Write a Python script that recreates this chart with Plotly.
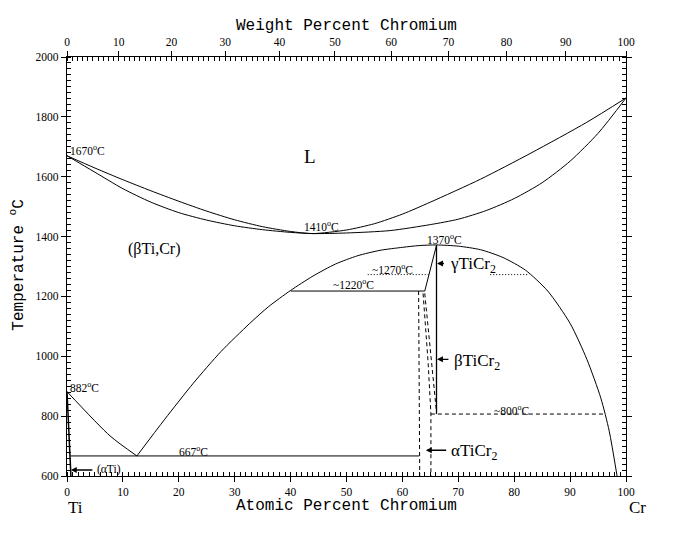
import plotly.graph_objects as go

# ---------------- data (atomic % Cr, temperature °C) ----------------
liq_x = [0, 5, 10, 15, 20, 25, 30, 35, 40, 44, 50, 55, 60, 65, 74, 83, 93, 100]
liq_T = [1670, 1629, 1590, 1553, 1518, 1485, 1456, 1433, 1417, 1410, 1422, 1443, 1475, 1515, 1592, 1679, 1782, 1863]

sol_x = [0, 5, 10, 15, 20, 25, 30, 35, 40, 44, 50, 57.8, 65, 70, 75, 80, 85, 90, 95, 100]
sol_T = [1670, 1615, 1560, 1515, 1480, 1455, 1436, 1423, 1414, 1410, 1412, 1420, 1440, 1458, 1487, 1527, 1580, 1652, 1745, 1863]

dome_x = [12.5, 17.5, 22.6, 27.5, 32.7, 36, 40, 44, 48, 52, 56, 60, 63, 66.1,
          70, 74, 78, 82, 86, 90, 93, 95.5, 97, 98.4]
dome_T = [667, 790, 910, 1015, 1110, 1165, 1220, 1268, 1308, 1336, 1354, 1364, 1370, 1372,
          1368, 1356, 1330, 1288, 1218, 1110, 990, 860, 750, 600]

transus_x = [0, 7.7, 12.5]
transus_T = [882, 734, 667]

asolvus_x = [0, 0.6, 0.7]
asolvus_T = [882, 667, 600]

eutectoid_x = [0.6, 63.0]
eutectoid_T = [667, 667]

peritectoid_x = [40.0, 64.0]
peritectoid_T = [1218, 1218]

gamma_x = [64.0, 66.1]
gamma_T = [1218, 1371]

laves_x = [66.1, 66.1]
laves_T = [1371, 807]

d800_x = [65.1, 96.4]
d800_T = [807, 807]

dash1_x = [62.9, 63.1]
dash1_T = [1218, 600]
dash2_x = [63.7, 64.6, 65.1, 65.1]
dash2_T = [1210, 980, 807, 600]
dash3_x = [64.0, 65.5, 66.1]
dash3_T = [1210, 912, 813]

dot1_x = [53.8, 64.7]
dot1_T = [1273, 1273]
dot2_x = [75.7, 82.7]
dot2_T = [1273, 1273]

wt_ticks = [0, 10, 20, 30, 40, 50, 60, 70, 80, 90, 100]
at_ticks = [0, 10, 20, 30, 40, 50, 60, 70, 80, 90, 100]
y_ticks = [600, 800, 1000, 1200, 1400, 1600, 1800, 2000]
M_TI, M_CR = 47.867, 51.996


def wt_to_at(w):
    a = w / M_CR
    b = (100 - w) / M_TI
    return 100 * a / (a + b)


fig = go.Figure()


def add_line(x, y, dash="solid", width=1, shape="linear"):
    line = dict(color="black", width=width, dash=dash, shape=shape)
    if shape == "spline":
        line["smoothing"] = 0.7
    fig.add_trace(go.Scatter(x=x, y=y, mode="lines", showlegend=False, hoverinfo="skip",
                             line=line))


add_line(liq_x, liq_T, shape="spline")
add_line(sol_x, sol_T, shape="spline")
add_line(dome_x, dome_T, shape="spline")
add_line(transus_x, transus_T, shape="spline")
add_line(asolvus_x, asolvus_T, width=1.5)
add_line(eutectoid_x, eutectoid_T)
add_line(peritectoid_x, peritectoid_T)
add_line(gamma_x, gamma_T)
add_line(laves_x, laves_T, width=1.3)
add_line(d800_x, d800_T, dash="4px,3px")
add_line(dash1_x, dash1_T, dash="4px,3px")
add_line(dash2_x, dash2_T, dash="4px,3px")
add_line(dash3_x, dash3_T, dash="4px,3px")
add_line(dot1_x, dot1_T, dash="1px,2px")
add_line(dot2_x, dot2_T, dash="1px,2px")

# invisible trace to anchor the weight-percent axis
fig.add_trace(go.Scatter(x=[0, 100], y=[600, 600], xaxis="x2", mode="none",
                         showlegend=False, hoverinfo="skip"))

SERIF = "Liberation Serif"
MONO = "Liberation Mono"

ann = []


def label(x, y, text, size=11.5, xanchor="center", font=SERIF):
    ann.append(dict(x=x, y=y, xref="x", yref="y", text=text, showarrow=False,
                    xanchor=xanchor, yanchor="middle",
                    font=dict(family=font, size=size, color="black")))


def arrow(x, y, ax, ay):
    ann.append(dict(x=x, y=y, ax=ax, ay=ay, xref="x", yref="y", axref="x", ayref="y",
                    text="", showarrow=True, arrowhead=2, arrowsize=0.9,
                    arrowwidth=1.3, arrowcolor="black", standoff=0, startstandoff=0))


label(0.2, 1690, "1670<sup>o</sup>C", xanchor="left")
label(100.2, 1887, "1863<sup>o</sup>C", xanchor="right")
label(43.5, 1667, "L", size=19)
label(45.6, 1437, "1410<sup>o</sup>C")
label(15.6, 1357, "(βTi,Cr)", size=16)
label(67.6, 1393, "1370<sup>o</sup>C")
label(58.3, 1293, "~1270<sup>o</sup>C")
label(51.3, 1240, "~1220<sup>o</sup>C")
label(0.2, 897, "882<sup>o</sup>C", xanchor="left")
label(22.7, 683, "667<sup>o</sup>C")
label(79.6, 820, "~800<sup>o</sup>C")
label(68.1, 1306, "γTiCr<sub>2</sub>", size=17, xanchor="left")
label(68.8, 980, "βTiCr<sub>2</sub>", size=17, xanchor="left")
label(68.4, 680, "αTiCr<sub>2</sub>", size=17, xanchor="left")
label(5.0, 622, "(αTi)", xanchor="left")

arrow(66.2, 1310, 67.7, 1310)
arrow(66.2, 990, 68.5, 990)
arrow(64.2, 686, 68.1, 686)
arrow(0.7, 620, 4.8, 620)

# axis titles and element names
ann.append(dict(x=0.5, y=1.074, xref="paper", yref="paper", text="Weight Percent Chromium",
                showarrow=False, xanchor="center", yanchor="middle",
                font=dict(family=MONO, size=16, color="black")))
ann.append(dict(x=0.5, y=-0.072, xref="paper", yref="paper", text="Atomic Percent Chromium",
                showarrow=False, xanchor="center", yanchor="middle",
                font=dict(family=MONO, size=16, color="black")))
ann.append(dict(x=-0.088, y=0.504, xref="paper", yref="paper", text="Temperature <sup>o</sup>C",
                showarrow=False, textangle=-90, xanchor="center", yanchor="middle",
                font=dict(family=MONO, size=16, color="black")))
ann.append(dict(x=0.016, y=-0.074, xref="paper", yref="paper", text="Ti",
                showarrow=False, xanchor="center", yanchor="middle",
                font=dict(family=SERIF, size=17, color="black")))
ann.append(dict(x=1.02, y=-0.074, xref="paper", yref="paper", text="Cr",
                showarrow=False, xanchor="center", yanchor="middle",
                font=dict(family=SERIF, size=17, color="black")))

tickfont = dict(family=SERIF, size=11.5, color="black")

# the page body has an 8px margin, so the figure is sized to fill the rest of the window
fig.update_layout(
    width=692, height=542,
    margin=dict(l=59, r=74, t=49, b=74),
    paper_bgcolor="white", plot_bgcolor="white",
    showlegend=False,
    annotations=ann,
    xaxis=dict(range=[0, 100], showgrid=False, zeroline=False, showline=True,
               linecolor="black", linewidth=1.3, mirror=False,
               tickmode="array", tickvals=at_ticks,
               ticks="outside", ticklen=5, tickcolor="black", tickwidth=1.2,
               tickfont=tickfont,
               minor=dict(ticks="inside", dtick=1, ticklen=4, tickcolor="black", tickwidth=1)),
    xaxis2=dict(range=[0, 100], overlaying="x", side="top", showgrid=False, zeroline=False,
                showline=True, linecolor="black", linewidth=1.3,
                tickmode="array", tickvals=[wt_to_at(w) for w in wt_ticks],
                ticktext=[str(w) for w in wt_ticks],
                ticks="outside", ticklen=5, tickcolor="black", tickwidth=1.2,
                tickfont=tickfont,
                minor=dict(ticks="inside", tickmode="array",
                           tickvals=[wt_to_at(w) for w in range(0, 101)],
                           ticklen=4, tickcolor="black", tickwidth=1)),
    yaxis=dict(range=[600, 2000], showgrid=False, zeroline=False, showline=True,
               linecolor="black", linewidth=1.3, mirror="ticks",
               tickmode="array", tickvals=y_ticks,
               ticks="outside", ticklen=5, tickcolor="black", tickwidth=1.2,
               tickfont=tickfont,
               minor=dict(ticks="inside", dtick=20, ticklen=4, tickcolor="black", tickwidth=1)),
)

fig.write_html("out.html")
